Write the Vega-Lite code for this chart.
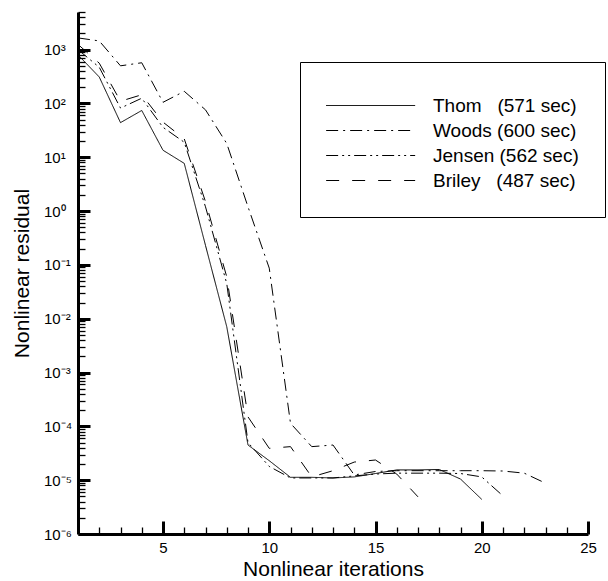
{
  "$schema": "https://vega.github.io/schema/vega-lite/v6.json",
  "width": 510,
  "height": 522,
  "autosize": {"type": "none"},
  "padding": {"left": 78, "top": 12, "right": 20, "bottom": 47},
  "background": "white",
  "config": {"view": {"stroke": null}, "font": "Liberation Sans"},
  "data": {"values": [
    {"it": 1, "series": "Thom", "r": 800}, {"it": 2, "series": "Thom", "r": 310}, {"it": 3, "series": "Thom", "r": 44}, {"it": 4, "series": "Thom", "r": 74}, {"it": 5, "series": "Thom", "r": 13.5}, {"it": 6, "series": "Thom", "r": 7.7}, {"it": 7, "series": "Thom", "r": 0.23}, {"it": 8, "series": "Thom", "r": 0.0071}, {"it": 9, "series": "Thom", "r": 4.5e-5}, {"it": 10, "series": "Thom", "r": 2.3e-5}, {"it": 11, "series": "Thom", "r": 1.13e-5}, {"it": 12, "series": "Thom", "r": 1.13e-5}, {"it": 13, "series": "Thom", "r": 1.1e-5}, {"it": 14, "series": "Thom", "r": 1.15e-5}, {"it": 15, "series": "Thom", "r": 1.33e-5}, {"it": 16, "series": "Thom", "r": 1.55e-5}, {"it": 17, "series": "Thom", "r": 1.55e-5}, {"it": 18, "series": "Thom", "r": 1.58e-5}, {"it": 19, "series": "Thom", "r": 1.05e-5}, {"it": 20, "series": "Thom", "r": 4.4e-6},
    {"it": 1, "series": "Woods", "r": 1650}, {"it": 2, "series": "Woods", "r": 1450}, {"it": 3, "series": "Woods", "r": 500}, {"it": 4, "series": "Woods", "r": 570}, {"it": 5, "series": "Woods", "r": 105}, {"it": 6, "series": "Woods", "r": 168}, {"it": 7, "series": "Woods", "r": 76}, {"it": 8, "series": "Woods", "r": 18}, {"it": 9, "series": "Woods", "r": 1.2}, {"it": 10, "series": "Woods", "r": 0.087}, {"it": 11, "series": "Woods", "r": 1.14e-4}, {"it": 12, "series": "Woods", "r": 4.2e-5}, {"it": 13, "series": "Woods", "r": 4.5e-5}, {"it": 14, "series": "Woods", "r": 1.25e-5}, {"it": 15, "series": "Woods", "r": 1.45e-5}, {"it": 16, "series": "Woods", "r": 1.5e-5}, {"it": 17, "series": "Woods", "r": 1.5e-5}, {"it": 18, "series": "Woods", "r": 1.5e-5}, {"it": 19, "series": "Woods", "r": 1.5e-5}, {"it": 20, "series": "Woods", "r": 1.5e-5}, {"it": 21, "series": "Woods", "r": 1.48e-5}, {"it": 22, "series": "Woods", "r": 1.35e-5}, {"it": 23, "series": "Woods", "r": 8.8e-6},
    {"it": 1, "series": "Jensen", "r": 1000}, {"it": 2, "series": "Jensen", "r": 470}, {"it": 3, "series": "Jensen", "r": 82}, {"it": 4, "series": "Jensen", "r": 125}, {"it": 5, "series": "Jensen", "r": 36}, {"it": 6, "series": "Jensen", "r": 19}, {"it": 7, "series": "Jensen", "r": 1.2}, {"it": 8, "series": "Jensen", "r": 0.045}, {"it": 9, "series": "Jensen", "r": 5e-5}, {"it": 10, "series": "Jensen", "r": 1.8e-5}, {"it": 11, "series": "Jensen", "r": 1.1e-5}, {"it": 12, "series": "Jensen", "r": 1.1e-5}, {"it": 13, "series": "Jensen", "r": 1.1e-5}, {"it": 14, "series": "Jensen", "r": 1.2e-5}, {"it": 15, "series": "Jensen", "r": 1.3e-5}, {"it": 16, "series": "Jensen", "r": 1.35e-5}, {"it": 17, "series": "Jensen", "r": 1.35e-5}, {"it": 18, "series": "Jensen", "r": 1.35e-5}, {"it": 19, "series": "Jensen", "r": 1.33e-5}, {"it": 20, "series": "Jensen", "r": 1.15e-5}, {"it": 21, "series": "Jensen", "r": 5.1e-6},
    {"it": 1, "series": "Briley", "r": 1250}, {"it": 2, "series": "Briley", "r": 560}, {"it": 3, "series": "Briley", "r": 110}, {"it": 4, "series": "Briley", "r": 145}, {"it": 5, "series": "Briley", "r": 45}, {"it": 6, "series": "Briley", "r": 22}, {"it": 7, "series": "Briley", "r": 1.5}, {"it": 8, "series": "Briley", "r": 0.06}, {"it": 9, "series": "Briley", "r": 1.5e-4}, {"it": 10, "series": "Briley", "r": 3.9e-5}, {"it": 11, "series": "Briley", "r": 4.2e-5}, {"it": 12, "series": "Briley", "r": 1.15e-5}, {"it": 13, "series": "Briley", "r": 1.5e-5}, {"it": 14, "series": "Briley", "r": 2.17e-5}, {"it": 15, "series": "Briley", "r": 2.37e-5}, {"it": 16, "series": "Briley", "r": 1.3e-5}, {"it": 17, "series": "Briley", "r": 4.9e-6}
  ]},
  "mark": {"type": "line", "color": "black", "strokeWidth": 1},
  "encoding": {
    "x": {
      "field": "it", "type": "quantitative",
      "scale": {"domain": [1, 25], "nice": false, "zero": false},
      "axis": {
        "title": "Nonlinear iterations",
        "values": [2,3,4,5,6,7,8,9,10,11,12,13,14,15,16,17,18,19,20,21,22,23,24,25],
        "labelExpr": "datum.value % 5 === 0 ? datum.label : ''",
        "tickSize": {"condition": {"test": "datum.value % 5 === 0", "value": -13}, "value": -7},
        "tickWidth": {"condition": {"test": "datum.value % 5 === 0", "value": 3}, "value": 1.3},
        "tickColor": "black",
        "domainColor": "black", "domainWidth": 3,
        "grid": false,
        "labelPadding": 19, "labelFontSize": 15, "labelColor": "black",
        "labelFlush": false, "labelOverlap": false, "labelBound": false,
        "titleFontSize": 21, "titleFontWeight": "normal", "titleColor": "black",
        "titleY": 41, "titleBaseline": "alphabetic"
      }
    },
    "y": {
      "field": "r", "type": "quantitative",
      "scale": {"type": "log", "domain": [1e-6, 5000], "nice": false},
      "axis": {
        "title": "Nonlinear residual",
        "values": [1e-6,2e-6,3e-6,4e-6,5e-6,6e-6,7e-6,8e-6,9e-6,1e-5,2e-5,3e-5,4e-5,5e-5,6e-5,7e-5,8e-5,9e-5,1e-4,2e-4,3e-4,4e-4,5e-4,6e-4,7e-4,8e-4,9e-4,1e-3,2e-3,3e-3,4e-3,5e-3,6e-3,7e-3,8e-3,9e-3,1e-2,2e-2,3e-2,4e-2,5e-2,6e-2,7e-2,8e-2,9e-2,0.1,0.2,0.3,0.4,0.5,0.6,0.7,0.8,0.9,1,2,3,4,5,6,7,8,9,10,20,30,40,50,60,70,80,90,100,200,300,400,500,600,700,800,900,1000,2000,3000,4000,5000],
        "labelExpr": "abs(log(datum.value)/LN10 - round(log(datum.value)/LN10)) < 0.001 ? ['10⁻⁶','10⁻⁵','10⁻⁴','10⁻³','10⁻²','10⁻¹','10⁰','10¹','10²','10³'][round(log(datum.value)/LN10) + 6] : ''",
        "tickSize": {"condition": {"test": "abs(log(datum.value)/LN10 - round(log(datum.value)/LN10)) < 0.001", "value": -12}, "value": -7},
        "tickWidth": {"condition": {"test": "abs(log(datum.value)/LN10 - round(log(datum.value)/LN10)) < 0.001", "value": 3}, "value": 1.3},
        "tickColor": "black",
        "domainColor": "black", "domainWidth": 3,
        "grid": false,
        "labelAlign": "left", "labelBaseline": "middle",
        "labelPadding": 46.5, "labelFontSize": 15, "labelColor": "black",
        "labelFlush": false, "labelOverlap": false, "labelBound": false,
        "titleFontSize": 21, "titleFontWeight": "normal", "titleColor": "black",
        "titleAngle": -90, "titleX": -50, "titleY": 261, "titleBaseline": "alphabetic", "titleAlign": "center"
      }
    },
    "strokeDash": {
      "field": "series", "type": "nominal",
      "scale": {"domain": ["Thom", "Woods", "Jensen", "Briley"], "range": [[1, 0], [12, 5, 2, 5], [12, 4, 2, 4, 2, 4], [13, 13]]},
      "legend": {
        "orient": "none", "legendX": 222, "legendY": 50,
        "title": " ", "titleFontSize": 4, "titlePadding": 4,
        "padding": 26, "strokeColor": "black", "fillColor": "white",
        "symbolType": "M-2.1,0H17.9", "symbolSize": 79.2, "symbolStrokeWidth": 1,
        "symbolStrokeColor": "black", "symbolFillColor": "transparent",
        "labelFontSize": 19, "labelOffset": 88, "labelColor": "black", "labelLimit": 400,
        "rowPadding": 5,
        "labelExpr": "{'Thom': 'Thom\u00a0\u00a0\u00a0(571 sec)', 'Woods': 'Woods (600 sec)', 'Jensen': 'Jensen (562 sec)', 'Briley': 'Briley\u00a0\u00a0\u00a0(487 sec)'}[datum.label]"
      }
    }
  }
}
